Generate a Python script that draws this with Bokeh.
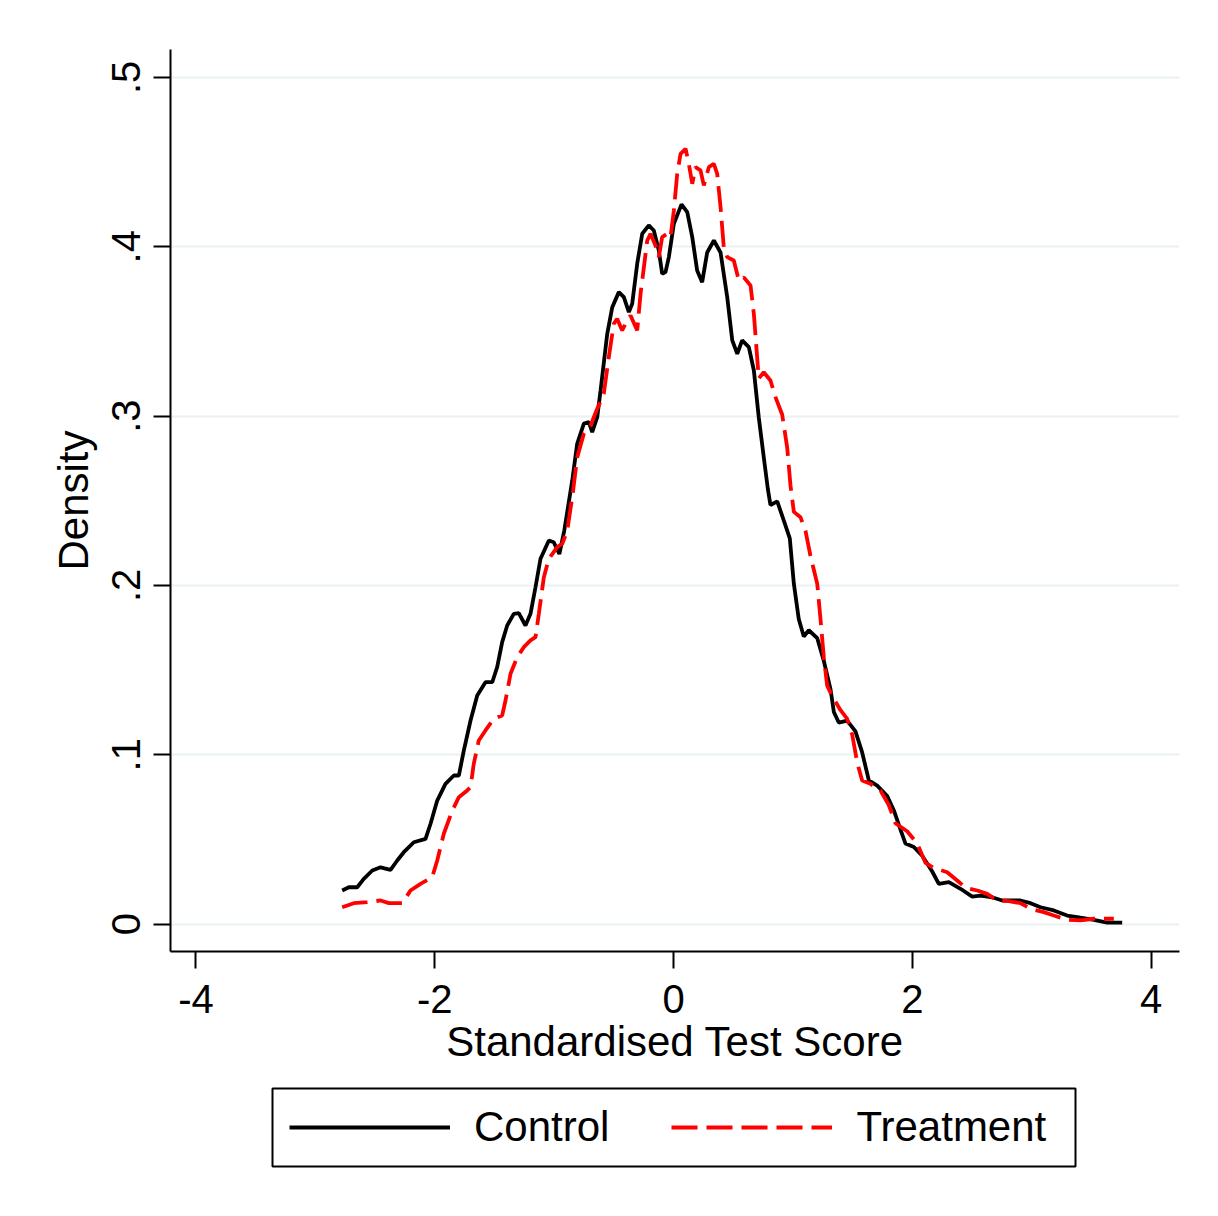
from bokeh.plotting import figure
from bokeh.models import Range1d, FixedTicker, Legend, LegendItem
from bokeh.layouts import column
from bokeh.embed import file_html
from bokeh.resources import INLINE

# ---- data (kernel density estimates) ----
control_x = [-2.775, -2.719, -2.649, -2.594, -2.523, -2.454, -2.370, -2.314, -2.259, -2.175,
             -2.077, -2.035, -1.979, -1.910, -1.840, -1.798, -1.756, -1.700, -1.644, -1.575,
             -1.518, -1.477, -1.435, -1.393, -1.338, -1.296, -1.240, -1.198, -1.156, -1.114,
             -1.044, -1.003, -0.956, -0.915, -0.848, -0.807, -0.751, -0.709, -0.681, -0.639,
             -0.611, -0.555, -0.513, -0.458, -0.416, -0.374, -0.346, -0.304, -0.262, -0.207,
             -0.165, -0.123, -0.095, -0.067, -0.039, 0.003, 0.067, 0.115, 0.157, 0.198,
             0.240, 0.282, 0.338, 0.394, 0.450, 0.492, 0.534, 0.575, 0.631, 0.673,
             0.714, 0.756, 0.790, 0.812, 0.869, 0.924, 0.974, 1.008, 1.049, 1.091,
             1.133, 1.204, 1.259, 1.315, 1.343, 1.384, 1.455, 1.524, 1.580, 1.636,
             1.706, 1.790, 1.845, 1.901, 1.943, 2.013, 2.083, 2.167, 2.222, 2.306,
             2.404, 2.502, 2.571, 2.669, 2.753, 2.906, 2.990, 3.074, 3.185, 3.297,
             3.409, 3.520, 3.632, 3.758]
control_y = [0.0198, 0.0217, 0.0217, 0.0267, 0.0316, 0.0335, 0.0320, 0.0375, 0.0424, 0.0483,
             0.0503, 0.0592, 0.0729, 0.0828, 0.0877, 0.0877, 0.1025, 0.1202, 0.1350, 0.1428,
             0.1428, 0.1517, 0.1665, 0.1763, 0.1832, 0.1836, 0.1763, 0.1832, 0.1989, 0.2157,
             0.2265, 0.2255, 0.2185, 0.2324, 0.2620, 0.2836, 0.2955, 0.2964, 0.2905, 0.2993,
             0.3151, 0.3486, 0.3643, 0.3732, 0.3702, 0.3614, 0.3663, 0.3900, 0.4077, 0.4126,
             0.4096, 0.3978, 0.3840, 0.3850, 0.3939, 0.4136, 0.4250, 0.4204, 0.4057, 0.3860,
             0.3791, 0.3966, 0.4037, 0.3966, 0.3702, 0.3447, 0.3368, 0.3447, 0.3407, 0.3269,
             0.2993, 0.2757, 0.2570, 0.2475, 0.2496, 0.2382, 0.2278, 0.2009, 0.1802, 0.1698,
             0.1735, 0.1688, 0.1553, 0.1387, 0.1252, 0.1190, 0.1201, 0.1138, 0.1014, 0.0848,
             0.0817, 0.0755, 0.0672, 0.0558, 0.0475, 0.0455, 0.0403, 0.0310, 0.0237, 0.0247,
             0.0208, 0.0162, 0.0168, 0.0158, 0.0139, 0.0139, 0.0123, 0.0099, 0.0080, 0.0050,
             0.0037, 0.0025, 0.0008, 0.0008]

treat_x = [-2.775, -2.678, -2.565, -2.454, -2.384, -2.272, -2.203, -2.119, -2.021, -1.979,
           -1.924, -1.853, -1.798, -1.728, -1.700, -1.673, -1.631, -1.575, -1.505, -1.435,
           -1.407, -1.365, -1.309, -1.254, -1.198, -1.156, -1.128, -1.086, -1.044, -0.974,
           -0.932, -0.890, -0.846, -0.807, -0.751, -0.695, -0.645, -0.584, -0.542, -0.500,
           -0.472, -0.430, -0.388, -0.360, -0.304, -0.276, -0.220, -0.193, -0.151, -0.123,
           -0.095, -0.053, -0.025, 0.003, 0.031, 0.059, 0.101, 0.128, 0.157, 0.184,
           0.226, 0.254, 0.296, 0.338, 0.366, 0.394, 0.421, 0.450, 0.505, 0.547,
           0.589, 0.645, 0.673, 0.714, 0.756, 0.812, 0.854, 0.910, 0.952, 0.980,
           1.008, 1.064, 1.106, 1.147, 1.204, 1.231, 1.259, 1.287, 1.329, 1.399,
           1.455, 1.497, 1.539, 1.580, 1.650, 1.734, 1.803, 1.859, 1.957, 2.041,
           2.111, 2.180, 2.292, 2.376, 2.446, 2.544, 2.627, 2.711, 2.808, 2.906,
           2.990, 3.101, 3.185, 3.297, 3.409, 3.520, 3.688]
treat_y = [0.0099, 0.0123, 0.0129, 0.0139, 0.0123, 0.0123, 0.0198, 0.0237, 0.0276, 0.0375,
           0.0533, 0.0670, 0.0749, 0.0789, 0.0808, 0.0946, 0.1084, 0.1143, 0.1212, 0.1232,
           0.1320, 0.1478, 0.1576, 0.1635, 0.1675, 0.1694, 0.1832, 0.2048, 0.2157, 0.2226,
           0.2246, 0.2324, 0.2531, 0.2755, 0.2895, 0.2944, 0.3033, 0.3132, 0.3348, 0.3545,
           0.3575, 0.3506, 0.3565, 0.3594, 0.3506, 0.3722, 0.4037, 0.4077, 0.4008, 0.3939,
           0.4057, 0.4077, 0.4057, 0.4214, 0.4431, 0.4549, 0.4579, 0.4490, 0.4372, 0.4470,
           0.4451, 0.4362, 0.4470, 0.4490, 0.4431, 0.4234, 0.3998, 0.3939, 0.3919, 0.3801,
           0.3819, 0.3771, 0.3604, 0.3222, 0.3259, 0.3210, 0.3112, 0.3009, 0.2815, 0.2589,
           0.2434, 0.2402, 0.2320, 0.2174, 0.2009, 0.1802, 0.1574, 0.1408, 0.1346, 0.1263,
           0.1211, 0.1118, 0.0952, 0.0848, 0.0828, 0.0788, 0.0703, 0.0595, 0.0548, 0.0475,
           0.0361, 0.0331, 0.0306, 0.0257, 0.0214, 0.0198, 0.0178, 0.0139, 0.0135, 0.0123,
           0.0090, 0.0070, 0.0050, 0.0025, 0.0021, 0.0031, 0.0031]

x_ticks = [-4, -2, 0, 2, 4]
x_tick_labels = ["-4", "-2", "0", "2", "4"]
y_ticks = [0, 0.1, 0.2, 0.3, 0.4, 0.5]
y_tick_labels = ["0", ".1", ".2", ".3", ".4", ".5"]
series_names = ["Control", "Treatment"]
x_title = "Standardised Test Score"
y_title = "Density"

FONT = "Liberation Sans"
FS = "40px"
FS_TITLE = "42px"
CONTROL_STYLE = dict(line_color="black", line_width=3.8)
TREAT_STYLE = dict(line_color="#FF0000", line_width=3.8, line_dash="26 9")

# ---------------- main plot ----------------
p = figure(width=1210, height=1085,
           x_range=Range1d(-4.213, 4.238), y_range=Range1d(-0.01624, 0.5165),
           output_backend="svg", toolbar_location=None,
           min_border_left=170, min_border_right=31,
           min_border_top=49, min_border_bottom=134)
p.frame_align = False

p.outline_line_color = None
p.background_fill_color = "white"
p.border_fill_color = "white"

p.xgrid.visible = False
p.ygrid.ticker = FixedTicker(ticks=y_ticks)
p.ygrid.grid_line_color = "#EAF1F3"
p.ygrid.grid_line_width = 2

for ax in (p.xaxis[0], p.yaxis[0]):
    ax.axis_line_color = "black"
    ax.axis_line_width = 2
    ax.major_tick_line_color = "black"
    ax.major_tick_line_width = 2
    ax.major_tick_out = 17
    ax.major_tick_in = 0
    ax.minor_tick_line_color = None
    ax.major_label_text_font = FONT
    ax.major_label_text_font_size = FS
    ax.major_label_text_color = "black"
    ax.axis_label_text_font = FONT
    ax.axis_label_text_font_size = FS_TITLE
    ax.axis_label_text_font_style = "normal"
    ax.axis_label_text_color = "black"

p.xaxis[0].ticker = FixedTicker(ticks=x_ticks)
p.xaxis[0].major_label_overrides = dict(zip(x_ticks, x_tick_labels))
p.xaxis[0].axis_label = x_title
p.xaxis[0].major_label_standoff = 16
p.xaxis[0].axis_label_standoff = 2

p.yaxis[0].ticker = FixedTicker(ticks=y_ticks)
p.yaxis[0].major_label_overrides = dict(zip(y_ticks, y_tick_labels))
p.yaxis[0].major_label_orientation = "vertical"
p.yaxis[0].axis_label = y_title
p.yaxis[0].major_label_standoff = 13
p.yaxis[0].axis_label_standoff = 13

p.line(control_x, control_y, **CONTROL_STYLE)
p.line(treat_x, treat_y, **TREAT_STYLE)

# ---------------- legend strip (its frame is the legend box) ----------------
# the series are drawn again here only as legend keys; the y-range keeps them out of view
leg = figure(width=1210, height=115,
             x_range=Range1d(0, 1), y_range=Range1d(10, 11),
             output_backend="svg", toolbar_location=None,
             x_axis_location=None, y_axis_location=None,
             min_border_left=272, min_border_right=135,
             min_border_top=3, min_border_bottom=34)
leg.frame_align = False
leg.xgrid.visible = False
leg.ygrid.visible = False
leg.outline_line_color = "black"
leg.outline_line_width = 2
leg.outline_line_alpha = 1.0
leg.background_fill_color = "white"
leg.border_fill_color = "white"

lr1 = leg.line(control_x, control_y, **CONTROL_STYLE)
lr2 = leg.line(treat_x, treat_y, **TREAT_STYLE)

legend = Legend(items=[LegendItem(label=series_names[0], renderers=[lr1]),
                       LegendItem(label=series_names[1], renderers=[lr2])],
                location="left", orientation="horizontal",
                glyph_width=161, glyph_height=44,
                label_text_font=FONT, label_text_font_size=FS_TITLE,
                label_text_color="black",
                label_standoff=24, spacing=62, padding=0, margin=17,
                border_line_color=None, background_fill_alpha=0.0)
leg.add_layout(legend, "center")

layout = column(p, leg, spacing=0)
open("out.html", "w").write(file_html(layout, INLINE))
